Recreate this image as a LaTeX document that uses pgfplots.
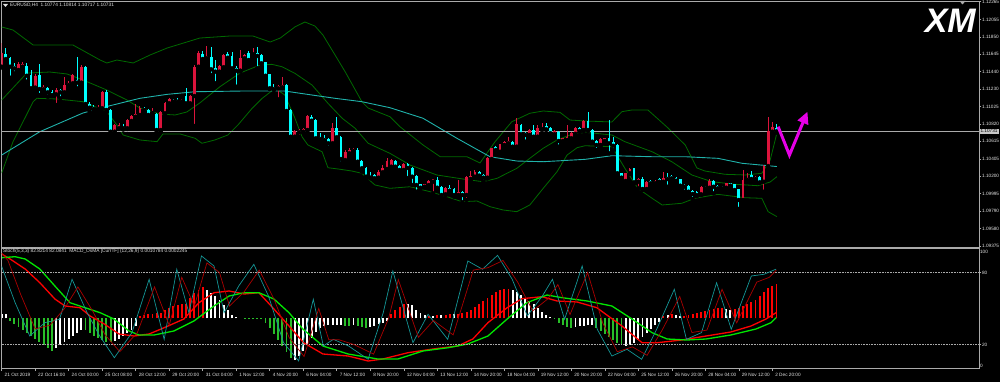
\documentclass[border=0pt]{standalone}
\usepackage{pgfplots}
\pgfplotsset{compat=1.18}
\usepackage{pgfplotstable}
\usepackage{fontspec}
\setmainfont{Liberation Sans}
\usetikzlibrary{arrows.meta}
\definecolor{upc}{RGB}{220,20,60}
\definecolor{dnc}{RGB}{0,255,255}
\definecolor{bbc}{RGB}{0,105,0}
\definecolor{mac}{RGB}{32,178,170}
\definecolor{axc}{RGB}{170,170,170}
\definecolor{txt}{RGB}{225,225,225}
\definecolor{stm}{RGB}{20,150,150}
\definecolor{sts}{RGB}{170,0,0}
\definecolor{hgr}{RGB}{40,190,40}
\definecolor{mcdg}{RGB}{0,230,0}
\definecolor{mcdr}{RGB}{255,0,0}
\definecolor{mag}{RGB}{230,0,230}
\definecolor{pbox}{RGB}{200,200,200}

\pgfplotstableread{
k o h l c
0 1.11496 1.11773 1.11487 1.11654
1 1.11643 1.11714 1.11575 1.11587
2 1.11595 1.11611 1.11366 1.11496
3 1.11504 1.11536 1.11418 1.11477
4 1.11457 1.11552 1.11445 1.11524
5 1.11496 1.11555 1.11477 1.11524
6 1.11504 1.11536 1.11319 1.11389
7 1.11398 1.11457 1.11220 1.11240
8 1.11248 1.11410 1.11232 1.11389
9 1.11398 1.11524 1.11161 1.11232
10 1.11229 1.11279 1.11208 1.11259
11 1.11248 1.11259 1.11141 1.11193
12 1.11200 1.11220 1.11149 1.11161
13 1.11169 1.11244 1.11043 1.11220
14 1.11220 1.11232 1.11122 1.11193
15 1.11193 1.11378 1.11185 1.11279
16 1.11279 1.11327 1.11268 1.11307
17 1.11300 1.11406 1.11291 1.11398
18 1.11339 1.11614 1.11240 1.11307
19 1.11307 1.11516 1.11291 1.11489
20 1.11489 1.11504 1.11043 1.11055
21 1.11055 1.11082 1.10964 1.11011
22 1.11023 1.11037 1.10984 1.10996
23 1.10996 1.11037 1.10984 1.11023
24 1.11004 1.11214 1.10996 1.11200
25 1.11200 1.11220 1.10960 1.10984
26 1.10984 1.10996 1.10712 1.10727
27 1.10727 1.10818 1.10712 1.10806
28 1.10767 1.10830 1.10759 1.10806
29 1.10786 1.10818 1.10753 1.10767
30 1.10767 1.10883 1.10759 1.10865
31 1.10854 1.10930 1.10842 1.10913
32 1.10904 1.11051 1.10895 1.10933
33 1.10925 1.11031 1.10913 1.11011
34 1.11011 1.11025 1.10972 1.10984
35 1.10984 1.10996 1.10901 1.10925
36 1.10948 1.11004 1.10904 1.10950
37 1.10933 1.10948 1.10735 1.10747
38 1.10747 1.10972 1.10735 1.10957
39 1.10945 1.11078 1.10936 1.11063
40 1.11063 1.11126 1.11055 1.11110
41 1.11102 1.11114 1.11072 1.11082
42 1.11099 1.11122 1.11043 1.11082
43 1.11082 1.11114 1.11072 1.11102
44 1.11149 1.11240 1.11055 1.11063
45 1.11063 1.11161 1.11055 1.11149
46 1.11149 1.11516 1.10794 1.11496
47 1.11496 1.11682 1.11487 1.11654
48 1.11646 1.11682 1.11575 1.11587
49 1.11595 1.11741 1.11587 1.11623
50 1.11614 1.11733 1.11398 1.11465
51 1.11477 1.11575 1.11300 1.11437
52 1.11437 1.11522 1.11427 1.11504
53 1.11489 1.11652 1.11481 1.11634
54 1.11643 1.11670 1.11593 1.11602
55 1.11623 1.11673 1.11469 1.11477
56 1.11484 1.11504 1.11259 1.11449
57 1.11449 1.11694 1.11439 1.11602
58 1.11595 1.11652 1.11587 1.11634
59 1.11662 1.11682 1.11563 1.11575
60 1.11643 1.11714 1.11634 1.11662
61 1.11662 1.11733 1.11477 1.11623
62 1.11634 1.11646 1.11528 1.11536
63 1.11548 1.11557 1.11380 1.11389
64 1.11406 1.11415 1.11232 1.11240
65 1.11259 1.11288 1.11220 1.11232
66 1.11240 1.11279 1.11110 1.11268
67 1.11252 1.11378 1.11244 1.11279
68 1.11279 1.11291 1.10933 1.10972
69 1.10984 1.10996 1.10629 1.10668
70 1.10668 1.10753 1.10629 1.10739
71 1.10720 1.10759 1.10668 1.10747
72 1.10727 1.10771 1.10718 1.10755
73 1.10747 1.10925 1.10735 1.10913
74 1.10904 1.10919 1.10848 1.10857
75 1.10865 1.10877 1.10641 1.10649
76 1.10661 1.10715 1.10629 1.10641
77 1.10649 1.10688 1.10617 1.10629
78 1.10637 1.10647 1.10538 1.10590
79 1.10590 1.10826 1.10582 1.10767
80 1.10767 1.10904 1.10652 1.10661
81 1.10668 1.10676 1.10353 1.10404
82 1.10392 1.10505 1.10380 1.10490
83 1.10471 1.10531 1.10451 1.10510
84 1.10499 1.10531 1.10471 1.10519
85 1.10510 1.10538 1.10363 1.10372
86 1.10380 1.10392 1.10254 1.10294
87 1.10301 1.10309 1.10167 1.10195
88 1.10207 1.10247 1.10176 1.10183
89 1.10215 1.10227 1.10161 1.10176
90 1.10183 1.10268 1.10173 1.10254
91 1.10247 1.10333 1.10238 1.10294
92 1.10286 1.10419 1.10274 1.10380
93 1.10313 1.10404 1.10303 1.10392
94 1.10384 1.10398 1.10303 1.10313
95 1.10321 1.10333 1.10262 1.10274
96 1.10274 1.10360 1.10262 1.10341
97 1.10341 1.10357 1.10179 1.10298
98 1.10298 1.10309 1.10096 1.10195
99 1.10207 1.10215 1.10017 1.10096
100 1.10105 1.10114 1.10055 1.10064
101 1.10076 1.10114 1.10067 1.10105
102 1.10096 1.10156 1.10085 1.10147
103 1.10135 1.10173 1.09998 1.10164
104 1.10156 1.10195 1.10055 1.10064
105 1.10076 1.10085 1.09939 1.09978
106 1.09986 1.10073 1.09978 1.10064
107 1.10057 1.10096 1.10020 1.10029
108 1.10046 1.10064 1.09958 1.09978
109 1.09978 1.10156 1.09966 1.10017
110 1.10017 1.10026 1.09892 1.09978
111 1.09978 1.10197 1.09919 1.10188
112 1.10167 1.10262 1.10156 1.10207
113 1.10195 1.10274 1.10185 1.10254
114 1.10254 1.10262 1.10197 1.10207
115 1.10215 1.10227 1.10135 1.10183
116 1.10183 1.10422 1.10173 1.10412
117 1.10404 1.10540 1.10365 1.10531
118 1.10542 1.10552 1.10499 1.10510
119 1.10490 1.10587 1.10481 1.10578
120 1.10570 1.10617 1.10558 1.10609
121 1.10590 1.10668 1.10550 1.10617
122 1.10609 1.10617 1.10540 1.10550
123 1.10550 1.10886 1.10540 1.10815
124 1.10806 1.10818 1.10688 1.10696
125 1.10708 1.10718 1.10609 1.10688
126 1.10688 1.10759 1.10676 1.10747
127 1.10747 1.10806 1.10658 1.10668
128 1.10668 1.10806 1.10658 1.10767
129 1.10759 1.10826 1.10747 1.10786
130 1.10798 1.10826 1.10747 1.10755
131 1.10767 1.10777 1.10700 1.10708
132 1.10696 1.10747 1.10688 1.10739
133 1.10727 1.10735 1.10550 1.10617
134 1.10617 1.10658 1.10605 1.10649
135 1.10629 1.10806 1.10590 1.10668
136 1.10649 1.10718 1.10641 1.10708
137 1.10700 1.10777 1.10688 1.10767
138 1.10767 1.10777 1.10723 1.10735
139 1.10747 1.10865 1.10735 1.10854
140 1.10854 1.10957 1.10735 1.10747
141 1.10747 1.10759 1.10599 1.10609
142 1.10617 1.10629 1.10510 1.10570
143 1.10570 1.10647 1.10558 1.10637
144 1.10617 1.10658 1.10605 1.10649
145 1.10649 1.10865 1.10471 1.10590
146 1.10602 1.10668 1.10510 1.10561
147 1.10570 1.10582 1.10221 1.10235
148 1.10235 1.10244 1.10167 1.10183
149 1.10144 1.10244 1.10132 1.10235
150 1.10235 1.10298 1.10227 1.10286
151 1.10294 1.10303 1.10114 1.10128
152 1.10135 1.10179 1.10057 1.10167
153 1.10167 1.10195 1.10037 1.10049
154 1.10049 1.10144 1.10037 1.10135
155 1.10147 1.10161 1.10102 1.10117
156 1.10117 1.10161 1.10108 1.10147
157 1.10167 1.10183 1.10126 1.10135
158 1.10135 1.10250 1.10126 1.10176
159 1.10195 1.10235 1.10076 1.10167
160 1.10203 1.10215 1.10167 1.10176
161 1.10183 1.10191 1.10138 1.10147
162 1.10164 1.10173 1.10079 1.10088
163 1.10096 1.10108 1.10017 1.10076
164 1.10088 1.10096 1.10008 1.10017
165 1.10029 1.10037 1.09931 1.09990
166 1.10010 1.10020 1.09966 1.09978
167 1.09986 1.10085 1.09978 1.10076
168 1.10076 1.10085 1.10049 1.10057
169 1.10064 1.10164 1.10055 1.10144
170 1.10144 1.10150 1.09998 1.10076
171 1.10088 1.10096 1.10017 1.10057
172 1.10076 1.10085 1.10049 1.10057
173 1.10064 1.10126 1.10055 1.10117
174 1.10117 1.10126 1.10079 1.10088
175 1.10108 1.10114 1.10026 1.10037
176 1.10049 1.10055 1.09813 1.09919
177 1.09919 1.10274 1.09907 1.10156
178 1.10156 1.10235 1.10144 1.10183
179 1.10215 1.10262 1.10156 1.10167
180 1.10167 1.10203 1.10156 1.10195
181 1.10195 1.10203 1.10120 1.10128
182 1.10135 1.10333 1.10017 1.10321
183 1.10321 1.10904 1.10309 1.10739
184 1.10727 1.10838 1.10718 1.10779
185 1.10774 1.10814 1.10717 1.10731
}\ohlc

% OsMA histogram, in pane pixels above (+) / below (-) its zero line; c: 0 red, 1 white, 2 green
\pgfplotstableread{
k v c
0 4 1
1 4 1
2 -3 2
3 -6 2
4 -9 2
5 -12 2
6 -15 2
7 -18 2
8 -21 2
9 -24 2
10 -27 2
11 -30 2
12 -33 2
13 -30 1
14 -27 1
15 -24 1
16 -21 1
17 -18 1
18 -15 1
19 -12 1
20 -12 2
21 -15 2
22 -18 2
23 -20 2
24 -22 2
25 -24 2
26 -24 2
27 -23 1
28 -21 1
29 -18 1
30 -15 1
31 -12 1
32 -8 1
33 2 0
34 3 0
35 4 0
36 4 0
37 5 0
38 5 0
39 8 0
40 10 0
41 12 0
42 13 0
43 14 0
44 14 0
45 20 0
46 25 0
47 28 0
48 31 0
49 28 1
50 25 1
51 22 1
52 18 1
53 13 1
54 8 1
55 3 1
56 1 1
57 0 1
58 -1 2
59 -1 2
60 -1 2
61 -1 2
62 -1 2
63 -5 2
64 -10 2
65 -16 2
66 -22 2
67 -28 2
68 -34 2
69 -40 2
70 -42 1
71 -38 1
72 -33 1
73 -27 1
74 -20 1
75 -14 1
76 -10 1
77 -8 1
78 -7 1
79 -7 1
80 -7 1
81 -7 1
82 -8 2
83 -8 2
84 -7 1
85 -8 2
86 -9 2
87 -10 2
88 -9 1
89 -8 1
90 -6 1
91 -5 1
92 -3 1
93 4 0
94 8 0
95 11 0
96 14 0
97 14 1
98 13 1
99 8 1
100 5 1
101 3 1
102 2 0
103 2 1
104 3 0
105 3 1
106 3 0
107 4 0
108 4 1
109 4 0
110 5 0
111 6 0
112 8 0
113 11 0
114 14 0
115 17 0
116 20 0
117 23 0
118 26 0
119 28 0
120 29 0
121 29 0
122 28 1
123 26 1
124 23 1
125 20 1
126 17 1
127 14 1
128 10 1
129 6 1
130 3 1
131 1 1
132 -1 2
133 -5 2
134 -7 2
135 -9 2
136 -10 2
137 -9 1
138 -8 1
139 -8 1
140 -7 1
141 -7 1
142 -10 2
143 -13 2
144 -16 2
145 -19 2
146 -22 2
147 -25 2
148 -27 2
149 -28 1
150 -27 1
151 -25 1
152 -22 1
153 -19 1
154 -15 1
155 -11 1
156 -7 1
157 -4 1
158 2 0
159 3 1
160 4 0
161 3 1
162 2 1
163 2 0
164 3 0
165 4 0
166 5 0
167 6 0
168 7 0
169 8 0
170 9 0
171 10 0
172 10 0
173 9 1
174 8 1
175 9 0
176 10 0
177 12 0
178 14 0
179 16 0
180 18 0
181 22 0
182 26 0
183 30 0
184 32 0
185 34 0
}\hist

\pgfplotsset{mt/.style={scale only axis, anchor=south west, width=977.6pt,
  xmin=0, xmax=233.43, clip mode=individual,
  axis line style={axc, line width=0.7pt}, tick style={axc, line width=0.5pt},
  tick align=outside, major tick length=2pt,
  tick label style={font=\fontsize{4.7}{5.5}\selectfont, text=txt},
  yticklabel style={anchor=west, inner xsep=0.6pt}}}

\begin{document}
\begin{tikzpicture}
\fill[black] (-2pt,-2pt) rectangle (1002pt,383pt);

% ---------------- main price pane ----------------
\begin{axis}[mt, at={(1.7pt,133.5pt)}, height=245.8pt,
  ymin=1.09357, ymax=1.12265, xtick=\empty,
  ytick={1.12265,1.12055,1.11850,1.11645,1.11440,1.11230,1.11025,1.10820,1.10615,1.10405,1.10200,1.09995,1.09790,1.09580,1.09375},
  yticklabels={1.12265,1.12055,1.11850,1.11645,1.11440,1.11230,1.11025,1.10820,1.10615,1.10405,1.10200,1.09995,1.09790,1.09580,1.09375},
  yticklabel pos=right, ytick pos=right, scaled y ticks=false]

% Bollinger bands
\addplot[bbc, line width=0.8pt] coordinates {(0,1.11966) (2.7,1.11930) (7.5,1.11753) (17,1.11753) (23.5,1.11575) (25.1,1.11540) (27.5,1.11575) (31.4,1.11540) (35.4,1.11634) (39.5,1.11717) (47.3,1.11835) (54.5,1.11859) (60,1.11859) (64.1,1.11788) (66.5,1.11835) (70,1.11966) (72.4,1.12025) (74.8,1.11977) (76.7,1.11871) (79.6,1.11634) (82,1.11437) (86,1.11082) (87.5,1.11007) (92.7,1.10904) (95.1,1.10786) (100.6,1.10570) (104.7,1.10431) (111.1,1.10431) (114.2,1.10357) (117.8,1.10609) (121.8,1.10845) (126.1,1.10945) (129.3,1.10972) (133.3,1.10956) (135.7,1.10865) (139.3,1.10854) (145.7,1.10842) (148.1,1.10964) (150.5,1.10984) (154.3,1.10984) (159.1,1.10771) (163.2,1.10570) (166,1.10298) (167.9,1.10262) (172.7,1.10223) (177.5,1.10215) (181.5,1.10235) (183.5,1.10392) (185.1,1.10712)};
\addplot[bbc, line width=0.8pt] coordinates {(0,1.11102) (6,1.11421) (11.5,1.11433) (15.6,1.11410) (19.4,1.11339) (25.1,1.11220) (29.9,1.11102) (33,1.11007) (37.8,1.10936) (41.4,1.10925) (44.2,1.10960) (47.3,1.11067) (52.1,1.11259) (56.9,1.11421) (61.7,1.11516) (64.5,1.11524) (66.9,1.11496) (70,1.11418) (74.1,1.11279) (77.9,1.11063) (81.3,1.10886) (84.4,1.10767) (87.5,1.10590) (92.7,1.10471) (97.5,1.10333) (103.9,1.10215) (110.2,1.10167) (114.9,1.10135) (118.3,1.10176) (123,1.10294) (126.1,1.10412) (129.3,1.10531) (132.6,1.10629) (135.7,1.10688) (139.3,1.10720) (145.7,1.10688) (148.8,1.10609) (155.3,1.10490) (160,1.10372) (164.8,1.10215) (169.6,1.10135) (175.1,1.10105) (180.6,1.10088) (183.5,1.10132) (185.1,1.10195)};
\addplot[bbc, line width=0.8pt] coordinates {(0,1.10238) (2.7,1.10609) (5.1,1.10845) (7.5,1.11082) (8.4,1.11122) (13.2,1.11114) (19.4,1.11082) (25.1,1.10964) (27.5,1.10806) (29,1.10688) (33,1.10629) (37.1,1.10609) (38.5,1.10700) (42.6,1.10700) (46.2,1.10649) (47.8,1.10590) (50.9,1.10629) (54,1.10688) (56.4,1.10806) (59.8,1.11004) (62.2,1.11122) (65.3,1.11240) (67.6,1.11161) (70,1.10889) (71.7,1.10668) (73.1,1.10570) (76.5,1.10490) (77.9,1.10301) (80.3,1.10286) (83.6,1.10262) (86,1.10235) (89.1,1.10097) (92.7,1.10057) (97.5,1.10076) (102.3,1.10017) (106.3,1.09958) (109.9,1.09899) (113.5,1.09907) (116.6,1.09840) (119.7,1.09801) (123,1.09781) (126.1,1.09860) (129.3,1.10057) (132.6,1.10254) (135,1.10451) (137.4,1.10538) (139.3,1.10561) (145.7,1.10550) (148.8,1.10294) (151.9,1.10057) (155.3,1.09939) (157.7,1.09860) (162.4,1.09880) (165.5,1.09939) (171,1.09986) (177.5,1.09946) (181.5,1.09939) (183,1.09781) (185.1,1.09722)};
% moving average
\addplot[mac, line width=0.9pt] coordinates {(0,1.10451) (9.1,1.10727) (13.9,1.10830) (19.4,1.10948) (25.9,1.11035) (33,1.11122) (39.5,1.11169) (46.2,1.11200) (57,1.11208) (67.6,1.11208) (74.1,1.11161) (79.6,1.11122) (86,1.11082) (92.7,1.11011) (100.6,1.10886) (108.7,1.10649) (116.6,1.10431) (123,1.10380) (129.3,1.10372) (139.3,1.10400) (145.7,1.10443) (155.3,1.10431) (163.2,1.10431) (171,1.10412) (176.8,1.10353) (185.1,1.10315)};
% current price line
\addplot[axc, line width=0.6pt] coordinates {(0,1.10731) (233.43,1.10731)};

% candles: wicks
\addplot[only marks, mark=none, error bars/.cd, y dir=plus, y explicit, error mark=none,
  error bar style={draw=upc, line width=0.9pt}]
  table[x=k, y expr={\thisrow{c}>=\thisrow{o} ? \thisrow{l} : nan}, y error plus expr={\thisrow{h}-\thisrow{l}}] {\ohlc};
\addplot[only marks, mark=none, error bars/.cd, y dir=plus, y explicit, error mark=none,
  error bar style={draw=dnc, line width=0.9pt}]
  table[x=k, y expr={\thisrow{c}<\thisrow{o} ? \thisrow{l} : nan}, y error plus expr={\thisrow{h}-\thisrow{l}}] {\ohlc};
% candles: bodies
\addplot[only marks, mark=none, error bars/.cd, y dir=plus, y explicit, error mark=none,
  error bar style={draw=upc, line width=2.8pt}]
  table[x=k, y expr={\thisrow{c}>=\thisrow{o} ? \thisrow{o} : nan}, y error plus expr={max(\thisrow{c}-\thisrow{o},0.000012)}] {\ohlc};
\addplot[only marks, mark=none, error bars/.cd, y dir=plus, y explicit, error mark=none,
  error bar style={draw=dnc, line width=2.8pt}]
  table[x=k, y expr={\thisrow{c}<\thisrow{o} ? \thisrow{c} : nan}, y error plus expr={max(\thisrow{o}-\thisrow{c},0.000012)}] {\ohlc};

% annotation arrow
\draw[draw=mag, line width=3pt, line join=miter, -{Triangle[length=12pt,width=11pt]}]
  (axis cs:185.4,1.10786) -- (axis cs:188.1,1.10451) -- (axis cs:192.4,1.10964);
% current price box
\node[anchor=west, fill=pbox, text=black, inner xsep=1pt, inner ysep=0.8pt,
  font=\fontsize{4.7}{5.5}\selectfont] at (axis cs:233.43,1.10731) {1.10731};
\end{axis}

% ---------------- lower pane: OsMA histogram + MACD lines ----------------
\begin{axis}[mt, at={(1.7pt,12.5pt)}, height=120pt, ymin=-50.2, ymax=69.8,
  axis lines=none, xtick=\empty, ytick=\empty]
\addplot[ycomb, line width=1.9pt, draw=mcdr] table[x=k, y expr={\thisrow{c}==0 ? \thisrow{v} : nan}] {\hist};
\addplot[ycomb, line width=1.9pt, draw=white] table[x=k, y expr={\thisrow{c}==1 ? \thisrow{v} : nan}] {\hist};
\addplot[ycomb, line width=1.9pt, draw=hgr] table[x=k, y expr={\thisrow{c}==2 ? \thisrow{v} : nan}] {\hist};
\addplot[mcdr, line width=1.3pt] coordinates {(0,64.3) (2,59.3) (5.6,49.3) (9.1,35.6) (12.7,19.3) (15.1,12.3) (18.7,10.6) (21.1,2.3) (24.5,-5.7) (28,-15.7) (31.6,-17.7) (35.2,-15.7) (38.8,-9.4) (43.5,-0.7) (47.1,15.6) (50.7,25.6) (54.3,27.3) (57.9,24.3) (61.4,25.6) (65,9.3) (68.6,-7.7) (72.1,-24.4) (76.7,-35.7) (82.7,-37.7) (87.5,-42.7) (91,-40.7) (97,-34.4) (103,-30.7) (108.9,-27.7) (112.5,-20.7) (116.1,-4.4) (120.7,10.6) (124.2,19.6) (129,21.6) (132.6,17.3) (137.4,16.3) (142.1,10.6) (148.1,-7.7) (152.9,-24.4) (156.5,-24.4) (162.4,-21.7) (168.2,-17.7) (174.1,-13.7) (178.9,-7.7) (182.5,-0.7) (184.9,5.6)};
\addplot[mcdg, line width=1.3pt] coordinates {(0,60.6) (3.2,61.6) (5.6,59.3) (9.1,49.3) (12.7,32.3) (16.3,15.6) (19.9,10.6) (23.5,5.6) (26.8,-0.7) (30.4,-12.7) (32.8,-16.7) (36.4,-16.7) (41.1,-12.7) (45.9,-2.7) (50.7,12.3) (54.3,22.3) (57.9,25.6) (61.4,25.6) (65,19.3) (68.6,5.6) (71.9,-10.7) (76.7,-27.7) (82.7,-35.7) (89.8,-40.7) (94.6,-40.7) (100.6,-32.7) (106.6,-29.4) (111.3,-25.7) (116.1,-17.7) (120.7,-0.7) (125.4,15.6) (130.2,23.3) (133.8,20.6) (139.8,17.3) (145.7,12.3) (150.5,-0.7) (155.3,-14.4) (158.9,-20.7) (163.6,-21.7) (168.2,-20.7) (174.1,-16.7) (180.1,-10.7) (183.7,-4.4) (184.9,0.6)};
\end{axis}

% ---------------- lower pane: stochastic ----------------
\begin{axis}[mt, at={(1.7pt,12.5pt)}, height=120pt, ymin=0, ymax=100,
  ytick={20,80}, yticklabels={20,80}, yticklabel pos=right, ytick pos=right,
  xtick={0,8,...,184}, xtick pos=bottom,
  xticklabels={21 Oct 2019,22 Oct 16:00,24 Oct 00:00,25 Oct 08:00,28 Oct 12:00,29 Oct 20:00,31 Oct 04:00,1 Nov 12:00,4 Nov 20:00,6 Nov 04:00,7 Nov 12:00,8 Nov 20:00,12 Nov 04:00,13 Nov 12:00,14 Nov 20:00,18 Nov 04:00,19 Nov 12:00,20 Nov 20:00,22 Nov 04:00,25 Nov 12:00,26 Nov 20:00,28 Nov 04:00,29 Nov 12:00,2 Dec 20:00},
  xticklabel style={anchor=north west, xshift=-0.5pt, yshift=1pt}]
\addplot[axc, densely dotted, line width=0.6pt] coordinates {(0,80) (233.43,80)};
\addplot[axc, densely dotted, line width=0.6pt] coordinates {(0,20) (233.43,20)};
\addplot[stm, line width=0.7pt] coordinates {(0,85) (3.2,54.9) (6.7,27.1) (10.3,38.2) (13.8,41) (16.8,74.3) (20.4,46.5) (23.4,27.1) (26.9,9) (31.1,29.9) (35.2,74.3) (38.8,24.3) (41.8,82.7) (44.7,46.5) (47.7,93.8) (50.7,85.4) (53.1,46.5) (56.6,68.8) (60.2,86.8) (63.7,60.4) (67.3,21.5) (70.9,6.3) (74.4,57.7) (76.8,18.8) (79.2,24.3) (82.8,18.8) (87.5,7.7) (91.1,46.5) (93.4,81.3) (98.2,21.5) (101.8,45.2) (106.5,24.3) (111.3,89.6) (114.8,82.7) (118.4,94.3) (121.9,74.3) (125.5,43.8) (129.1,60.4) (131.5,74.3) (134.4,41) (138.6,85.4) (142.2,32.7) (145.7,10.4) (149.3,16) (152.8,7.7) (156.4,32.7) (160.6,66) (163.5,24.3) (167.1,29.9) (170.7,71.5) (174.2,32.7) (179,77.1) (182,78.5) (184.9,82.8)};
\addplot[sts, line width=0.7pt] coordinates {(0,96) (1.5,90) (4.5,62) (8,33) (11.5,36) (15,50) (18.2,68) (21.7,48) (24.7,28) (28.2,14) (32.4,30) (36.5,68) (40,36) (43,76) (46,52) (49,88) (52,80) (54.4,52) (57.9,64) (61.5,82) (65,58) (68.6,26) (72.2,10) (75.7,50) (78.1,24) (80.5,24) (84.1,20) (88.8,12) (92.4,42) (94.7,74) (99.5,26) (103.1,40) (107.8,28) (112.6,82) (116.1,84) (119.7,90) (123.2,72) (126.8,48) (130.4,58) (132.8,70) (135.7,45) (139.9,80) (143.5,38) (147,14) (150.6,18) (154.1,11) (157.7,32) (161.9,60) (164.8,30) (168.4,32) (172,66) (175.5,38) (180.3,72) (183.3,76) (185,82.1)};
\node[anchor=west, text=txt, font=\fontsize{4.7}{5.5}\selectfont, inner xsep=0.6pt] at (axis cs:233.43,100) [yshift=-3.5pt] {100};
\node[anchor=west, text=txt, font=\fontsize{4.7}{5.5}\selectfont, inner xsep=0.6pt] at (axis cs:233.43,0) [yshift=2.5pt] {0};
\end{axis}

% headers and logo
\fill[txt] (3pt,377pt) -- (8pt,377pt) -- (5.5pt,374pt) -- cycle;
\node[anchor=west, text=txt, font=\fontsize{4.8}{5.5}\selectfont, inner sep=0pt] at (10pt,375.5pt) {EURUSD,H4\ \ 1.10774 1.10814 1.10717 1.10731};
\node[anchor=west, text=txt, font=\fontsize{4.8}{5.5}\selectfont, inner sep=0pt] at (3pt,130pt) {Stoch(5,3,3) 82.8214 82.0841\ \ MACD\_OsMA [CurrTF] (12,26,9) 0.0010784 0.0002245};
\fill[axc] (959.5pt,380pt) -- (965.5pt,380pt) -- (962.5pt,376.5pt) -- cycle;
\node[anchor=east, text=white, font=\fontsize{34}{34}\selectfont\bfseries\itshape, inner sep=0pt] at (976pt,360pt) {XM};
\pgfresetboundingbox
\useasboundingbox (0pt,0pt) rectangle (1000pt,381pt);
\end{tikzpicture}
\end{document}
